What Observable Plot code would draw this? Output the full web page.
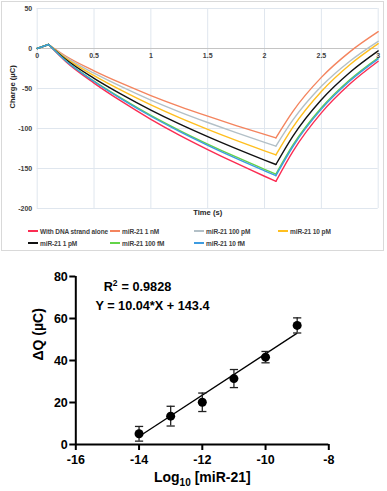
<!DOCTYPE html>
<html><head><meta charset="utf-8">
<script src="https://cdn.jsdelivr.net/npm/d3@7"></script>
<script src="https://cdn.jsdelivr.net/npm/@observablehq/plot@0.6"></script>
<style>
body{margin:0;background:#fff;font-family:"Liberation Sans",Arial,sans-serif;}
#top{position:relative;width:387px;height:253px;}
#frame{position:absolute;left:1px;top:1px;width:383px;height:250px;border:1px solid #d9d9d9;box-sizing:border-box;}
#top svg{position:absolute;left:0;top:0;}
.lg{position:absolute;font-size:6.5px;font-weight:bold;color:#404040;white-space:nowrap;line-height:8px;letter-spacing:-0.1px;}
.sw{display:inline-block;width:10px;height:1.6px;vertical-align:middle;margin-right:2px;position:relative;top:-1px;}
#bottom{width:387px;height:238px;}
</style></head><body>
<div id="top"><div id="frame"></div></div>
<div id="bottom"></div>
<script>
// ---------- top chart data ----------
const times = [0, 0.1, 0.25, 0.5, 0.75, 1, 1.25, 1.5, 1.75, 2, 2.1, 2.25, 2.5, 2.75, 3];
const seriesNames = ["With DNA strand alone", "miR-21 1 nM", "miR-21 100 pM", "miR-21 10 pM", "miR-21 1 pM", "miR-21 100 fM", "miR-21 10 fM"];
const seriesColors = ["#fb2c52", "#f4845e", "#b3c0c7", "#ffbf1f", "#111111", "#63d448", "#3d9be0"];
const dnaAlone = [0, 5, -16.1, -43.2, -66.8, -88.5, -108.2, -126.3, -143.4, -159.7, -166, -128.5, -80.5, -44.5, -16];
const mir1nM   = [0, 5, -9.4, -27.9, -44, -58.8, -72.3, -84.6, -96.3, -107.4, -111.7, -78.5, -36.1, -4.2, 21];
const mir100pM = [0, 5, -10.7, -30.8, -48.3, -64.5, -79.1, -92.5, -105.2, -117.3, -122, -89.3, -47.3, -15.9, 9];
const mir10pM  = [0, 5, -12, -33.9, -53, -70.5, -86.4, -101, -114.8, -127.9, -133, -98.3, -53.8, -20.4, 6];
const mir1pM   = [0, 5, -13.5, -37.3, -58, -77, -94.3, -110.2, -125.2, -139.5, -145, -109.5, -64.1, -30, -3];
const mir100fM = [0, 5, -15, -40.7, -63, -83.6, -102.2, -119.4, -135.6, -151, -157, -120.6, -74.1, -39.1, -11.5];
const mir10fM  = [0, 5, -15.3, -41.2, -63.9, -84.7, -103.6, -121, -137.4, -152.9, -159, -122.5, -75.8, -40.7, -13];
const seriesValues = [dnaAlone, mir1nM, mir100pM, mir10pM, mir1pM, mir100fM, mir10fM];
const xTicks = [0, 0.5, 1, 1.5, 2, 2.5, 3];
const yTicks = [50, 0, -50, -100, -150, -200];

// ---------- bottom chart data ----------
const logConc = [-14, -13, -12, -11, -10, -9];
const deltaQ = [5.1, 13.5, 20.1, 31.4, 41.6, 56.7];
const deltaQErr = [3.5, 4.7, 4.4, 4.3, 2.7, 3.6];
const fitX = [-14, -9];
const fitY = [3.84, 53.04];
const bxTicks = [-16, -14, -12, -10, -8];
const byTicks = [0, 20, 40, 60, 80];

// build rows: split each curve at its peak (index 1) and its minimum (index 10)
const rows = [];
seriesNames.forEach((name, si) => {
  const vals = seriesValues[si];
  const pieces = [[0, 1], [1, 10], [10, times.length - 1]];
  pieces.forEach(([a, b], pi) => {
    for (let i = a; i <= b; i++) rows.push({series: name, key: name + "|" + pi, t: times[i], v: vals[i]});
  });
});

const topFont = "'Liberation Sans', Arial, sans-serif";
const topPlot = Plot.plot({
  width: 387, height: 222,
  marginLeft: 36.7, marginRight: 9.3, marginTop: 8, marginBottom: 14,
  x: {domain: [0, 3], axis: null},
  y: {domain: [-200, 50], axis: null},
  color: {domain: seriesNames, range: seriesColors},
  style: {fontFamily: topFont, background: "transparent", overflow: "visible"},
  marks: [
    Plot.gridX(xTicks, {stroke: "#dfe6ee", strokeOpacity: 1}),
    Plot.gridY(yTicks, {stroke: "#dfe6ee", strokeOpacity: 1}),
    Plot.ruleY([0], {stroke: "#c4c4c4", strokeWidth: 1}),
    Plot.line(rows, {x: "t", y: "v", z: "key", stroke: "series", curve: "monotone-x", strokeWidth: 1.4}),
    Plot.text(xTicks, {x: d => d, y: 0, dy: 7.5, text: d => String(d), fontSize: 7, fontWeight: "bold", fill: "#404040"}),
    Plot.text(yTicks, {frameAnchor: "left", y: d => d, dx: -5, textAnchor: "end", text: d => String(d), fontSize: 7, fontWeight: "bold", fill: "#404040"}),
    Plot.text(["Time (s)"], {frameAnchor: "bottom", dy: 6, text: d => d, fontSize: 7.6, fontWeight: "bold", fill: "#262626"}),
    Plot.text(["Charge (µC)"], {frameAnchor: "left", dx: -24.7, rotate: -90, text: d => d, fontSize: 7.6, fontWeight: "bold", fill: "#262626"})
  ]
});
document.getElementById("top").appendChild(topPlot);

// legend (HTML)
const legendCols = [28, 110, 194, 278];
const legendRows = [228, 240];
const topDiv = document.getElementById("top");
seriesNames.forEach((name, i) => {
  const r = i < 4 ? 0 : 1;
  const c = i < 4 ? i : i - 4;
  const d = document.createElement("div");
  d.className = "lg";
  d.style.left = legendCols[c] + "px";
  d.style.top = legendRows[r] + "px";
  d.innerHTML = `<span class="sw" style="background:${seriesColors[i]}"></span>${name}`;
  topDiv.appendChild(d);
});

// ---------- bottom chart ----------
const pts = logConc.map((x, i) => ({x, y: deltaQ[i], e: deltaQErr[i]}));
const capHalf = 0.13;
const bFont = "'Liberation Sans', Arial, sans-serif";
const bottomPlot = Plot.plot({
  width: 387, height: 238,
  marginLeft: 75.3, marginRight: 58.7, marginTop: 23, marginBottom: 47,
  x: {domain: [-16, -8]},
  y: {domain: [0, 80]},
  style: {fontFamily: bFont, fontSize: "12.5px", fontWeight: "bold", color: "#000", background: "transparent", overflow: "visible"},
  marks: [
    Plot.axisY({ticks: byTicks, tickSize: 6, tickPadding: 2, strokeWidth: 2, label: null, fontSize: 12.5, fontWeight: "bold"}),
    Plot.axisX({ticks: bxTicks, tickSize: 6, tickPadding: 5, strokeWidth: 2, label: null, fontSize: 12.5, fontWeight: "bold", tickFormat: d => String(d).replace("−", "-")}),
    Plot.ruleX([-16], {strokeWidth: 2, stroke: "#000"}),
    Plot.ruleY([0], {strokeWidth: 2, stroke: "#000"}),
    Plot.link([0], {x1: () => fitX[0], y1: () => fitY[0], x2: () => fitX[1], y2: () => fitY[1], stroke: "#000", strokeWidth: 1.3}),
    Plot.ruleX(pts, {x: "x", y1: d => d.y - d.e, y2: d => d.y + d.e, stroke: "#222", strokeWidth: 1.3}),
    Plot.link(pts, {x1: d => d.x - capHalf, x2: d => d.x + capHalf, y1: d => d.y + d.e, y2: d => d.y + d.e, stroke: "#222", strokeWidth: 1.3}),
    Plot.link(pts, {x1: d => d.x - capHalf, x2: d => d.x + capHalf, y1: d => d.y - d.e, y2: d => d.y - d.e, stroke: "#222", strokeWidth: 1.3}),
    Plot.dot(pts, {x: "x", y: "y", r: 4.5, fill: "#000"}),
    Plot.text(["R2 = 0.9828"], {x: -15.12, y: 74.8, textAnchor: "start", text: d => d, fontSize: 12.7, fontWeight: "bold"}),
    Plot.text(["Y = 10.04*X + 143.4"], {x: -15.38, y: 66.2, textAnchor: "start", text: d => d, fontSize: 12.7, fontWeight: "bold"}),
    Plot.text(["Log10 [miR-21]"], {frameAnchor: "bottom", dy: 37.7, text: d => d, fontSize: 14, fontWeight: "bold"}),
    Plot.text(["ΔQ (µC)"], {frameAnchor: "left", dx: -37, rotate: -90, text: d => d, fontSize: 14, fontWeight: "bold"})
  ]
});
document.getElementById("bottom").appendChild(bottomPlot);

// sub/superscripts
bottomPlot.querySelectorAll("text").forEach(t => {
  if (t.textContent === "Log10 [miR-21]") {
    t.innerHTML = 'Log<tspan font-size="10" dy="4">10</tspan><tspan dy="-4"> [miR-21]</tspan>';
  } else if (t.textContent === "R2 = 0.9828") {
    t.innerHTML = 'R<tspan font-size="8.5" dy="-5">2</tspan><tspan dy="5" dx="4">= 0.9828</tspan>';
  }
});
</script>
</body></html>
